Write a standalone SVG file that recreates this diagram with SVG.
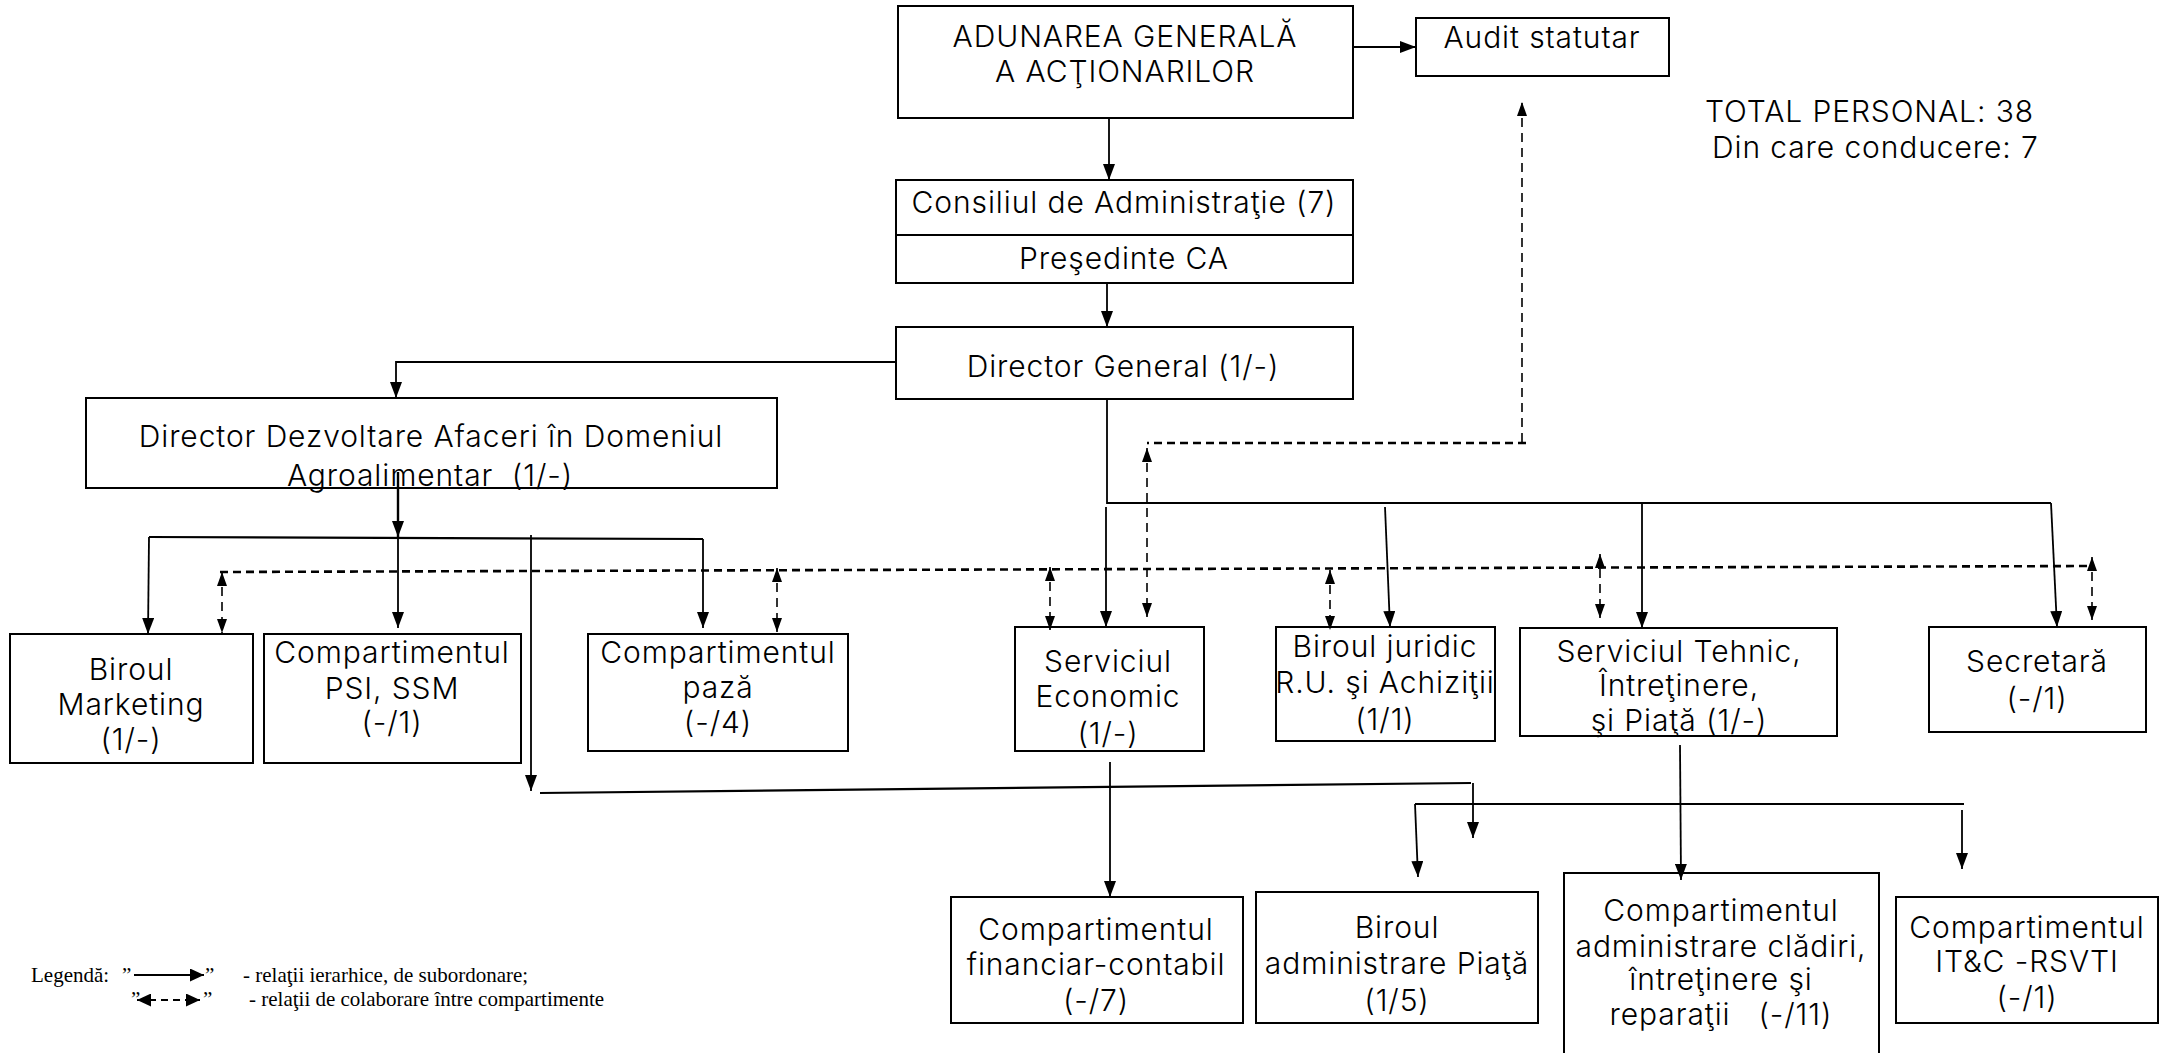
<svg xmlns="http://www.w3.org/2000/svg" width="2161" height="1053" viewBox="0 0 2161 1053">
<style>
.box{fill:#fff;stroke:#000;stroke-width:2}
.edge{fill:none;stroke:#000;stroke-width:2}
.t{font-family:Inter,"Open Sans","DejaVu Sans",sans-serif;font-size:30px;font-weight:300;letter-spacing:0.9px;text-anchor:middle;fill:#000;white-space:pre}
.tl{text-anchor:start}
.s{fill:none;stroke:#000;stroke-width:1.8}
.sa{fill:none;stroke:#000;stroke-width:1.8;marker-end:url(#ah)}
.dh{fill:none;stroke:#000;stroke-width:2.6;stroke-dasharray:8 5}
.dv{fill:none;stroke:#000;stroke-width:1.6;stroke-dasharray:9 6;marker-start:url(#dh);marker-end:url(#dh)}
.lg{font-family:"Liberation Serif","Times New Roman",serif;font-size:21px;fill:#000}
</style>
<defs>
<marker id="ah" markerUnits="userSpaceOnUse" markerWidth="16" markerHeight="12" refX="16" refY="6" orient="auto"><path d="M0,0 L16,6 L0,12 Z" fill="#000"/></marker>
<marker id="dh" markerUnits="userSpaceOnUse" markerWidth="14" markerHeight="10" refX="14" refY="5" orient="auto-start-reverse"><path d="M0,0 L14,5 L0,10 Z" fill="#000"/></marker>
<marker id="lh" markerUnits="userSpaceOnUse" markerWidth="14" markerHeight="13" refX="14" refY="6.5" orient="auto-start-reverse"><path d="M0,0 L14,6.5 L0,13 Z" fill="#000"/></marker>
</defs>
<rect width="2161" height="1053" fill="#fff"/>

<g id="n-adunarea"><rect class="box" x="898" y="6" width="455" height="112"/><text class="t" x="1125" y="47">ADUNAREA GENERALĂ</text><text class="t" x="1125" y="82">A ACŢIONARILOR</text></g>
<g id="n-audit"><rect class="box" x="1416" y="18" width="253" height="58"/><text class="t" x="1542" y="48">Audit statutar</text></g>
<g id="n-consiliul"><rect class="box" x="896" y="180" width="457" height="55"/><text class="t" x="1124" y="213">Consiliul de Administraţie (7)</text></g>
<g id="n-presedinte"><rect class="box" x="896" y="235" width="457" height="48"/><text class="t" x="1124" y="269">Preşedinte CA</text></g>
<g id="n-dg"><rect class="box" x="896" y="327" width="457" height="72"/><text class="t" x="1123" y="377">Director General (1/-)</text></g>
<g id="n-total"><text class="t tl" x="1705" y="122">TOTAL PERSONAL: 38</text><text class="t tl" x="1712" y="158">Din care conducere: 7</text></g>
<g id="n-dda"><rect class="box" x="86" y="398" width="691" height="90"/><text class="t" x="431" y="447">Director Dezvoltare Afaceri în Domeniul</text><text class="t" x="430" y="486">Agroalimentar  (1/-)</text><rect class="edge" x="86" y="398" width="691" height="90"/></g>
<g id="n-marketing"><rect class="box" x="10" y="634" width="243" height="129"/><text class="t" x="131" y="680">Biroul</text><text class="t" x="131" y="715">Marketing</text><text class="t" x="131" y="750">(1/-)</text></g>
<g id="n-psi"><rect class="box" x="264" y="634" width="257" height="129"/><text class="t" x="392" y="663">Compartimentul</text><text class="t" x="392" y="699">PSI, SSM</text><text class="t" x="392" y="733">(-/1)</text></g>
<g id="n-paza"><rect class="box" x="588" y="634" width="260" height="117"/><text class="t" x="718" y="663">Compartimentul</text><text class="t" x="718" y="698">pază</text><text class="t" x="718" y="733">(-/4)</text></g>
<g id="n-economic"><rect class="box" x="1015" y="627" width="189" height="124"/><text class="t" x="1108" y="672">Serviciul</text><text class="t" x="1108" y="707">Economic</text><text class="t" x="1108" y="744">(1/-)</text></g>
<g id="n-juridic"><rect class="box" x="1276" y="627" width="219" height="114"/><text class="t" x="1385" y="657">Biroul juridic</text><text class="t" x="1385" y="693">R.U. şi Achiziţii</text><text class="t" x="1385" y="730">(1/1)</text></g>
<g id="n-tehnic"><rect class="box" x="1520" y="628" width="317" height="108"/><text class="t" x="1679" y="662">Serviciul Tehnic,</text><text class="t" x="1679" y="696">Întreţinere,</text><text class="t" x="1679" y="731">şi Piaţă (1/-)</text><rect class="edge" x="1520" y="628" width="317" height="108"/></g>
<g id="n-secretara"><rect class="box" x="1929" y="627" width="217" height="105"/><text class="t" x="2037" y="672">Secretară</text><text class="t" x="2037" y="709">(-/1)</text></g>
<g id="n-financiar"><rect class="box" x="951" y="897" width="292" height="126"/><text class="t" x="1096" y="940">Compartimentul</text><text class="t" x="1096" y="975">financiar-contabil</text><text class="t" x="1096" y="1011">(-/7)</text></g>
<g id="n-piata"><rect class="box" x="1256" y="892" width="282" height="131"/><text class="t" x="1397" y="938">Biroul</text><text class="t" x="1397" y="974">administrare Piaţă</text><text class="t" x="1397" y="1011">(1/5)</text></g>
<g id="n-cladiri"><rect class="box" x="1564" y="873" width="315" height="200"/><text class="t" x="1721" y="921">Compartimentul</text><text class="t" x="1721" y="957">administrare clădiri,</text><text class="t" x="1721" y="990">întreţinere şi</text><text class="t" x="1721" y="1025">reparaţii   (-/11)</text></g>
<g id="n-itc"><rect class="box" x="1896" y="897" width="262" height="126"/><text class="t" x="2027" y="938">Compartimentul</text><text class="t" x="2027" y="972">IT&amp;C -RSVTI</text><text class="t" x="2027" y="1008">(-/1)</text></g>

<g id="connectors">
<path class="sa" d="M1353,47 H1416"/>
<path class="sa" d="M1109,118 V180"/>
<path class="sa" d="M1107,283 V327"/>
<path class="sa" d="M896,362 H396 V398"/>
<path class="sa" d="M398,472 V537" style="stroke-width:2.4"/>
<path class="s" d="M149,537 L703,539" style="stroke-width:2.2"/>
<path class="sa" d="M149,537 L148,634"/>
<path class="sa" d="M398,537 V628"/>
<path class="sa" d="M703,539 V628"/>
<path class="sa" d="M531,535 V791"/>
<path class="s" d="M540,793 L1471,783" style="stroke-width:2.2"/>
<path class="sa" d="M1473,783 V838"/>
<path class="s" d="M1107,399 V503 H2051"/>
<path class="sa" d="M1106,507 V627"/>
<path class="sa" d="M1385,507 L1390,627"/>
<path class="sa" d="M1642,503 V628"/>
<path class="sa" d="M2051,503 L2057,627"/>
<path class="sa" d="M1110,762 V897"/>
<path class="sa" d="M1680,745 L1681,880"/>
<path class="s" d="M1415,804 H1964" style="stroke-width:2.2"/>
<path class="sa" d="M1415,804 L1418,877"/>
<path class="sa" d="M1962,810 V869"/>
<path class="dh" d="M220,572 L2092,566"/>
<path class="dv" d="M222,572 V633"/>
<path class="dv" d="M777,568 V632"/>
<path class="dv" d="M1050,567 V630"/>
<path class="dv" d="M1330,570 V630"/>
<path class="dv" d="M1600,554 V618"/>
<path class="dv" d="M2092,557 V620"/>
<path class="dv" d="M1522,442 V102" style="marker-start:none"/>
<path class="dh" d="M1526,443 H1147"/>
<path class="dv" d="M1147,448 V617"/>
</g>

<g id="legend">
<text class="lg" x="31" y="982">Legendă:</text>
<text class="lg" x="122" y="982">”</text>
<path d="M134,975 H204" stroke="#000" stroke-width="2" marker-end="url(#lh)"/>
<text class="lg" x="205" y="982">”</text>
<text class="lg" x="243" y="982">- relaţii ierarhice, de subordonare;</text>
<text class="lg" x="131" y="1006">”</text>
<path d="M137,1000 H200" stroke="#000" stroke-width="2" stroke-dasharray="7 5" marker-start="url(#lh)" marker-end="url(#lh)"/>
<text class="lg" x="203" y="1006">”</text>
<text class="lg" x="249" y="1006">- relaţii de colaborare între compartimente</text>
</g>
</svg>
